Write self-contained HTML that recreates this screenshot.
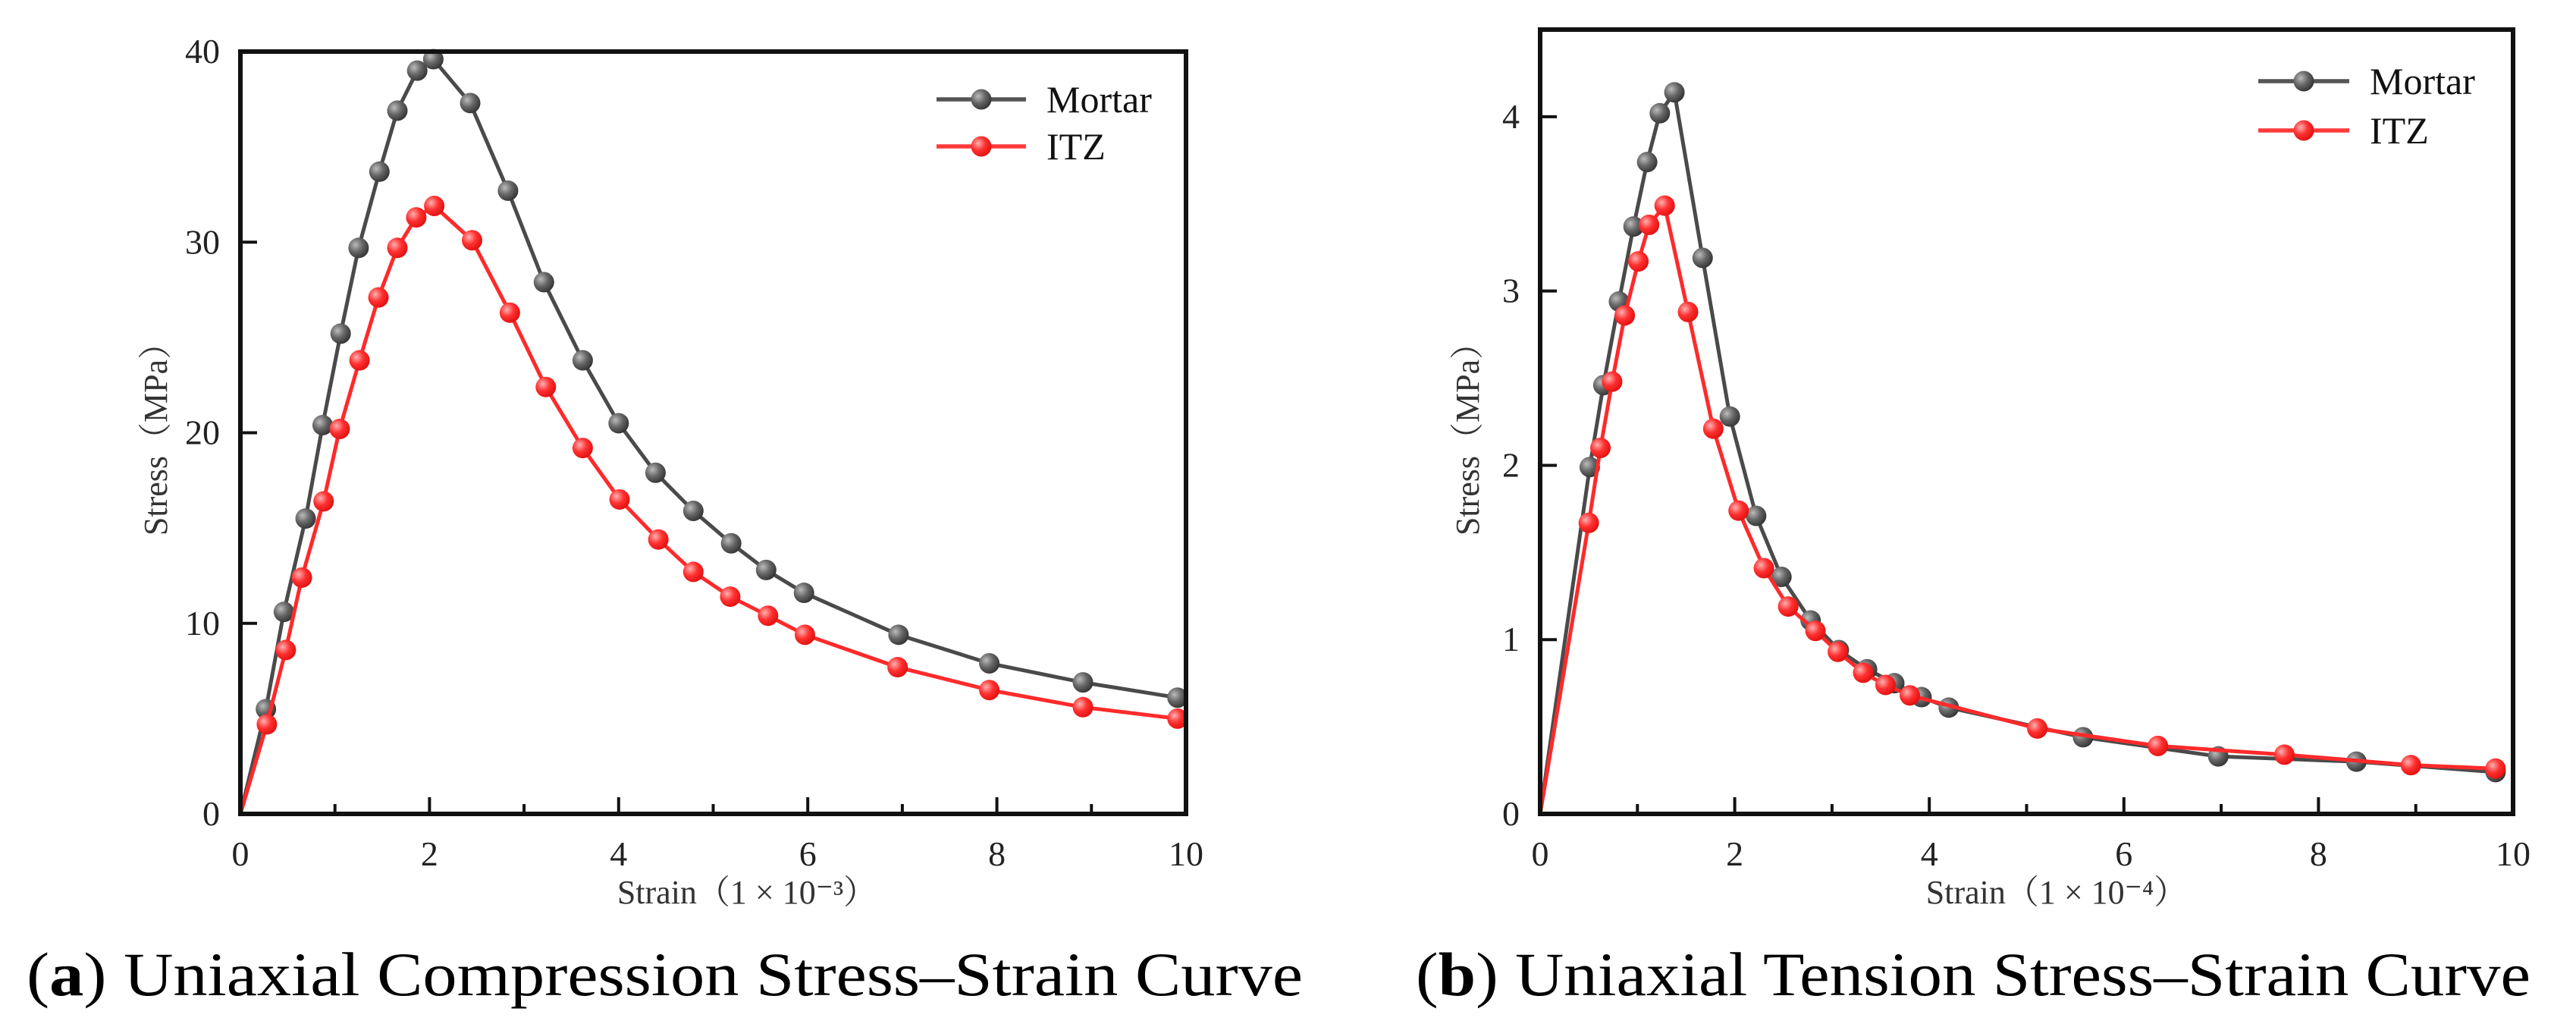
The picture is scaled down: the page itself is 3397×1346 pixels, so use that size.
<!DOCTYPE html>
<html><head><meta charset="utf-8"><style>
html,body{margin:0;padding:0;background:#fff;}
svg{display:block;font-family:"Liberation Serif","Noto Serif CJK SC",serif;}
</style></head><body>
<svg id="fig" width="3397" height="1346" viewBox="0 0 3397 1346" xmlns="http://www.w3.org/2000/svg">
<defs>
<radialGradient id="gGray" cx="0.35" cy="0.35" r="0.7"><stop offset="0" stop-color="#bbb"/><stop offset="0.5" stop-color="#666"/><stop offset="1" stop-color="#333"/></radialGradient>
<radialGradient id="gRed" cx="0.35" cy="0.35" r="0.7"><stop offset="0" stop-color="#ffb0b0"/><stop offset="0.5" stop-color="#ff3030"/><stop offset="1" stop-color="#e01010"/></radialGradient>
</defs>
</svg>
<script>
// Chart A: Uniaxial compression
const aMortarX=[0,0.27,0.46,0.69,0.87,1.06,1.25,1.47,1.66,1.87,2.04,2.43,2.83,3.21,3.62,4.00,4.39,4.79,5.19,5.56,5.96,6.96,7.92,8.91,9.91];
const aMortarY=[0,5.5,10.6,15.5,20.4,25.2,29.7,33.7,36.9,39.0,39.6,37.3,32.7,27.9,23.8,20.5,17.9,15.9,14.2,12.8,11.6,9.4,7.9,6.9,6.1];
const aItzX=[0,0.28,0.48,0.65,0.88,1.05,1.26,1.46,1.66,1.86,2.05,2.45,2.85,3.23,3.62,4.01,4.42,4.79,5.18,5.58,5.97,6.95,7.92,8.91,9.91];
const aItzY=[0,4.7,8.6,12.4,16.4,20.2,23.8,27.1,29.7,31.3,31.9,30.1,26.3,22.4,19.2,16.5,14.4,12.7,11.4,10.4,9.4,7.7,6.5,5.6,5.0];
const aXTicks=["0","2","4","6","8","10"];
const aYTicks=["0","10","20","30","40"];
// Chart B: Uniaxial tension
const bMortarX=[0,0.51,0.65,0.81,0.96,1.10,1.23,1.38,1.67,1.95,2.22,2.48,2.78,3.07,3.36,3.64,3.92,4.20,5.58,6.97,8.39,9.82];
const bMortarY=[0,1.99,2.46,2.94,3.37,3.74,4.02,4.14,3.19,2.28,1.71,1.36,1.11,0.94,0.83,0.75,0.67,0.61,0.44,0.33,0.30,0.24];
const bItzX=[0,0.50,0.62,0.74,0.87,1.01,1.12,1.28,1.52,1.78,2.04,2.30,2.55,2.83,3.06,3.32,3.55,3.80,5.11,6.35,7.65,8.95,9.82];
const bItzY=[0,1.67,2.10,2.48,2.86,3.17,3.38,3.49,2.88,2.21,1.74,1.41,1.19,1.05,0.93,0.81,0.74,0.68,0.49,0.39,0.34,0.28,0.26];
const bXTicks=["0","2","4","6","8","10"];
const bYTicks=["0","1","2","3","4"];

const NS="http://www.w3.org/2000/svg";
const svg=document.getElementById('fig');
function mk(tag,attrs,parent){const e=document.createElementNS(NS,tag);for(const k in attrs)e.setAttribute(k,attrs[k]);(parent||svg).appendChild(e);return e;}

function chart(cfg){
  const g=mk('g',{});
  
  
  const sx=v=>cfg.L+(v-0)/(10-0)*(cfg.R-cfg.L);
  const sy=v=>cfg.B-(v/cfg.ymax)*(cfg.B-cfg.T);
  for(let i=0;i<=10;i++){
    const major=i%2===0;
    const t=mk('line',{x1:sx(i),x2:sx(i),y1:cfg.B,y2:cfg.B-(major?22:13),stroke:'#111','stroke-width':4},g);
    
    
  }
  cfg.xt.forEach((s,i)=>{
    const t=mk('text',{x:sx(+s),y:cfg.B+68,'text-anchor':'middle','font-size':46,fill:'#222'},g);
    t.textContent=s;
    
    
  });
  cfg.yt.forEach(s=>{
    const v=+s;
    const y=sy(v);
    const t=mk('line',{x1:cfg.L,x2:cfg.L+22,y1:y,y2:y,stroke:'#111','stroke-width':4},g);
    
    
    const tl=mk('text',{x:cfg.L-27,y:y+15,'text-anchor':'end','font-size':46,fill:'#222'},g);
    tl.textContent=s;
    
    
  });
  function series(xs,ys,color,grad,name){
    const sg=mk('g',{},g);
    
    
    const pts=xs.map((x,i)=>sx(x)+','+sy(ys[i])).join(' ');
    mk('polyline',{points:pts,fill:'none',stroke:color,'stroke-width':5,'stroke-linejoin':'round'},sg);
    xs.forEach((x,i)=>{
      if(i===0)return;
      const c=mk('circle',{cx:sx(x),cy:sy(ys[i]),r:13.5,fill:grad},sg);
      
      
    });
  }
  series(cfg.mx,cfg.my,'#4a4a4a','url(#gGray)','mortar-series');
  series(cfg.ix,cfg.iy,'#ff2a2a','url(#gRed)','itz-series');
  const fr=mk('rect',{x:cfg.L,y:cfg.T,width:cfg.R-cfg.L,height:cfg.B-cfg.T,fill:'none',stroke:'#111','stroke-width':6},g);
  
  
  const lg=mk('g',{},g);
  
  
  [['Mortar','#555','url(#gGray)',cfg.ly1],['ITZ','#ff3a3a','url(#gRed)',cfg.ly2]].forEach(([lab,col,gr,y])=>{
    const e=mk('g',{},lg);
    
    
    mk('line',{x1:cfg.lx1,x2:cfg.lx2,y1:y,y2:y,stroke:col,'stroke-width':5.5},e);
    mk('circle',{cx:(cfg.lx1+cfg.lx2)/2,cy:y,r:13.5,fill:gr},e);
    const t=mk('text',{x:cfg.lx2+27,y:y+17,'font-size':50,fill:'#111'},e);
    t.textContent=lab;
  });
  const xt=mk('text',{x:cfg.xtx,y:cfg.B+118,'text-anchor':'middle','font-size':44,fill:'#333'},g);
  xt.textContent=cfg.xtitle;
  
  
  const yt=mk('text',{x:0,y:0,'text-anchor':'middle','font-size':44,fill:'#333',transform:`translate(${cfg.ytx},568) rotate(-90)`},g);
  yt.textContent='Stress（MPa）';
  
  
  const cap=mk('text',{x:cfg.capx,y:1312,'font-size':82,fill:'#000',textLength:cfg.capw,lengthAdjust:'spacingAndGlyphs'},svg);
  
  
  cap.innerHTML='(<tspan font-weight="bold">'+cfg.letter+'</tspan>) '+cfg.caption;
}

chart({name:'compression-chart',L:317,R:1564,T:68,B:1073,ymax:40,xt:aXTicks,yt:aYTicks,
  mx:aMortarX,my:aMortarY,ix:aItzX,iy:aItzY,
  lx1:1235,lx2:1353,ly1:131,ly2:193,xtx:985,ytx:220,xtitle:'Strain（1 × 10⁻³）',
  capx:35,capw:1683,letter:'a',caption:'Uniaxial Compression Stress–Strain Curve'});
chart({name:'tension-chart',L:2031,R:3314,T:39,B:1073,ymax:4.5,xt:bXTicks,yt:bYTicks,
  mx:bMortarX,my:bMortarY,ix:bItzX,iy:bItzY,
  lx1:2978,lx2:3098,ly1:107,ly2:172,xtx:2712,ytx:1950,xtitle:'Strain（1 × 10⁻⁴）',
  capx:1867,capw:1470,letter:'b',caption:'Uniaxial Tension Stress–Strain Curve'});
</script>
</body></html>
